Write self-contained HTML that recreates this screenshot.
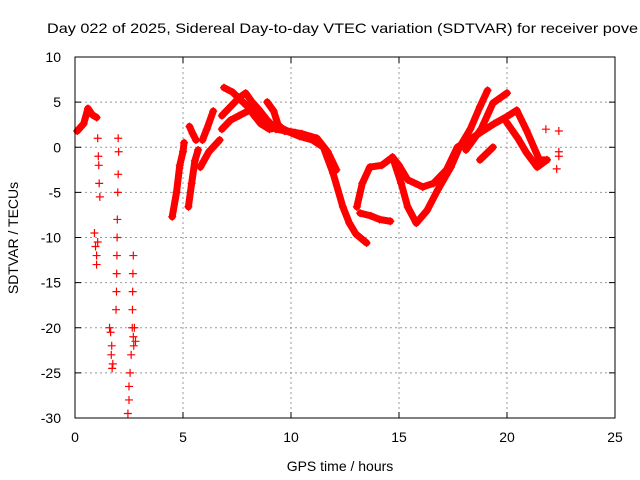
<!DOCTYPE html>
<html><head><meta charset="utf-8"><style>
body{margin:0;background:#fff}
svg{display:block;font-family:"Liberation Sans",sans-serif}
</style></head><body>
<svg id="chart" width="640" height="480" viewBox="0 0 640 480">
<rect width="640" height="480" fill="#fff"/>
<text x="47" y="33" font-size="14" textLength="591" lengthAdjust="spacingAndGlyphs">Day 022 of 2025, Sidereal Day-to-day VTEC variation (SDTVAR) for receiver pove</text>
<g id="grid"></g><g id="marks"></g>
<rect x="75" y="57" width="540" height="361" fill="none" stroke="#000" stroke-width="1"/>
<g id="ticks"></g>
<text x="340" y="471" font-size="14" text-anchor="middle">GPS time / hours</text>
<text transform="translate(18,238) rotate(-90)" font-size="14" text-anchor="middle">SDTVAR / TECUs</text>
</svg>
<script>
const xTicks=[0,5,10,15,20,25];
const yTicks=[10,5,0,-5,-10,-15,-20,-25,-30];
// dense tracks [hours, TECU]
const trackA=[[0.1,1.8],[0.4,2.6],[0.6,4.3],[0.8,3.6],[1.0,3.3]];
const trackB=[[4.5,-7.7],[4.7,-5],[4.85,-2],[5.0,-0.5],[5.05,0.5]];
const trackC=[[5.3,2.3],[5.45,1.5],[5.6,0.8]];
const trackD=[[5.9,0.8],[6.1,2],[6.4,4]];
const trackE=[[5.25,-6.6],[5.4,-4],[5.55,-1.5],[5.7,-0.3]];
const trackF=[[5.8,-2.2],[6.2,-0.5],[6.7,0.8]];
const trackG=[[6.9,6.6],[7.3,6.1],[7.6,5.4],[8.0,4.5],[8.3,3.5],[8.6,2.6],[9.0,2],[9.5,2.2],[10.0,1.6],[10.4,1.2],[11.0,0.8],[11.5,0],[11.95,-2.9],[12.4,-6.6],[12.7,-8.4],[13.0,-9.6],[13.5,-10.6]];
const trackH=[[6.8,3.5],[7.2,4.5],[7.6,5.5],[7.9,6],[8.2,5],[8.5,4.2],[8.9,3],[9.3,2],[9.8,1.8],[10.5,1.5],[11.2,1],[11.7,-0.5],[12.1,-2.5]];
const trackI=[[6.8,2],[7.2,3],[7.6,3.5],[8.0,4],[8.4,4.2],[8.7,3],[9.0,2.2]];
const trackJ=[[8.9,5],[9.2,4],[9.4,2.5],[9.7,1.8],[10.2,1.6]];
const trackK=[[13.05,-6.6],[13.3,-4],[13.65,-2.2],[14.2,-2],[14.7,-1.1],[15.0,-2],[15.4,-3.6],[16.1,-4.4],[16.6,-4],[17.2,-2.5],[17.7,0],[18.75,1.6],[19.4,2.6],[20.0,3.4],[20.45,4.1],[20.9,1.9],[21.5,-1.4],[21.85,-1.4]];
const trackL=[[13.2,-7.3],[13.7,-7.6],[14.1,-8],[14.6,-8.2]];
const trackM=[[14.7,-1.1],[15.1,-4],[15.4,-6.6],[15.8,-8.4],[16.3,-7],[16.8,-4.7],[17.4,-2.2],[17.8,0]];
const trackN=[[17.8,0],[18.3,2],[18.75,4.5],[19.1,6.3]];
const trackO=[[18.1,-0.3],[18.8,2],[19.35,4.9],[20.0,6]];
const trackP=[[20.0,2.7],[20.5,1],[20.9,-0.6],[21.4,-2.2],[21.85,-1.4]];
const trackQ=[[18.75,-1.4],[19.35,0]];
const denseTracks=[trackA,trackB,trackC,trackD,trackE,trackF,trackG,trackH,trackI,trackJ,trackK,trackL,trackM,trackN,trackO,trackP,trackQ];
// sparse scattered points
const sparseTimes=[1.05,1.08,1.1,1.12,1.15,0.9,0.95,1.0,1.0,1.05,1.6,1.65,1.7,1.75,1.72,1.68,2.0,2.02,2.0,1.98,1.96,1.95,1.94,1.93,1.92,1.9,2.45,2.5,2.5,2.55,2.6,2.65,2.66,2.67,2.68,2.7,2.72,2.7,2.75,2.8,21.8,22.4,22.4,22.4,22.3];
const sparseValues=[1,-1,-2,-4,-5.5,-9.5,-11,-12,-13,-10.5,-20,-20.5,-22,-24,-24.5,-23,1,-0.5,-3,-5,-8,-10,-12,-14,-16,-18,-29.5,-28,-26.5,-25,-23,-20,-18,-16,-14,-12,-22,-21,-20,-21.5,2,1.8,-0.5,-1,-2.4];
const X=t=>75+t*21.6, Y=v=>57+(10-v)*9.025;
const NS='http://www.w3.org/2000/svg';
const grid=document.getElementById('grid'),ticks=document.getElementById('ticks'),marks=document.getElementById('marks');
function mk(tag,attrs,parent){const e=document.createElementNS(NS,tag);for(const k in attrs)e.setAttribute(k,attrs[k]);parent.appendChild(e);return e;}
xTicks.forEach(t=>{
 if(t>0&&t<25){const l=mk('line',{x1:X(t),x2:X(t),y1:57,y2:418,stroke:'#999','stroke-dasharray':'2,3'},grid);
 
 }
 const tx=mk('text',{x:X(t),y:442,'font-size':14,'text-anchor':'middle'},ticks);tx.textContent=t;
 
 
 mk('line',{x1:X(t),x2:X(t),y1:418,y2:412,stroke:'#000'},ticks);mk('line',{x1:X(t),x2:X(t),y1:57,y2:63,stroke:'#000'},ticks);
});
yTicks.forEach(v=>{
 if(v<10&&v>-30){const l=mk('line',{x1:75,x2:615,y1:Y(v),y2:Y(v),stroke:'#999','stroke-dasharray':'2,3'},grid);
 
 }
 const tx=mk('text',{x:61,y:Y(v)+5,'font-size':14,'text-anchor':'end'},ticks);tx.textContent=v;
 
 
 mk('line',{x1:75,x2:81,y1:Y(v),y2:Y(v),stroke:'#000'},ticks);mk('line',{x1:615,x2:609,y1:Y(v),y2:Y(v),stroke:'#000'},ticks);
});
function plus(t,v,name){const p=mk('path',{d:`M${X(t)-4},${Y(v)}h8M${X(t)},${Y(v)-4}v8`,stroke:'#f00','stroke-width':1.2,fill:'none'},marks);
 
 }
denseTracks.forEach(tr=>{
 const pl=mk('polyline',{points:tr.map(p=>X(p[0])+','+Y(p[1])).join(' '),fill:'none',stroke:'#f00','stroke-width':7,'stroke-linejoin':'round','stroke-linecap':'round'},marks);
 
 
 tr.forEach(p=>plus(p[0],p[1],'sdtvar-point'));
});
sparseTimes.forEach((t,i)=>plus(t,sparseValues[i],'sdtvar-point'));
</script>
</body></html>
